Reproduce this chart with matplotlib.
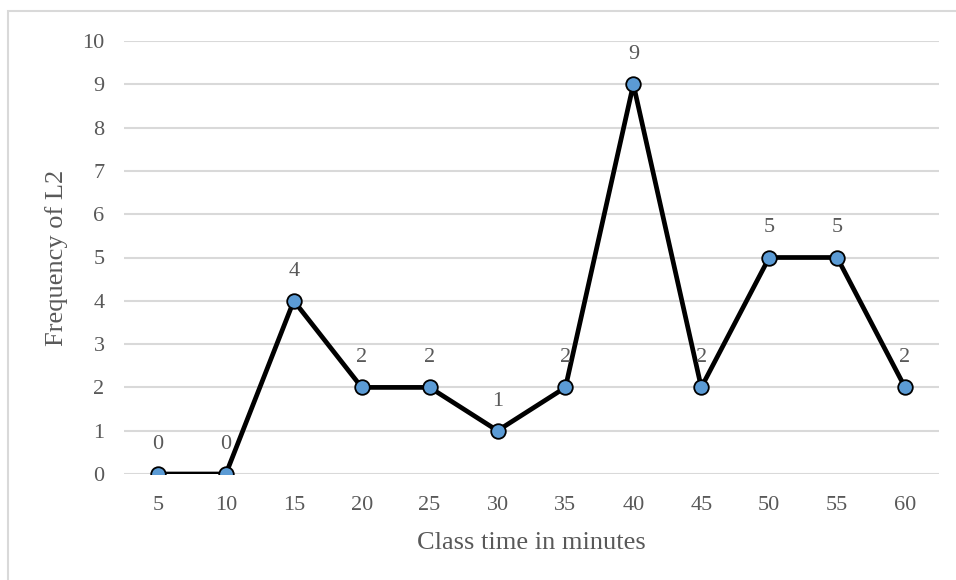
import matplotlib.pyplot as plt
from matplotlib.patches import Rectangle

# Data
minutes = ['5', '10', '15', '20', '25', '30', '35', '40', '45', '50', '55', '60']
freq_l2 = [0, 0, 4, 2, 2, 1, 2, 9, 2, 5, 5, 2]

text_col = '#595959'
plt.rcParams['font.family'] = ['Liberation Serif', 'DejaVu Serif']

fig = plt.figure(figsize=(9.56, 5.8), dpi=100)
ax = fig.add_axes([124 / 956, 1 - 474 / 580, (939 - 124) / 956, (474 - 41) / 580])

# outer chart border (cropped at right and bottom)
fig.patches.append(Rectangle((7.5 / 956, -0.1), 1.2, 1.1 - 11 / 580, transform=fig.transFigure,
                             fill=False, edgecolor='#D9D9D9', linewidth=1.5))

x = list(range(len(minutes)))
ax.plot(x, freq_l2, color='black', linewidth=3.4, marker='o', markersize=10.5,
        markerfacecolor='#5B9BD5', markeredgecolor='black', markeredgewidth=1.3, zorder=3)

for xi, v in zip(x, freq_l2):
    ax.annotate(str(v), (xi, v), textcoords='offset points', xytext=(0, 18),
                ha='center', va='baseline', fontsize=16, color=text_col)

ax.set_xlim(-0.5, len(minutes) - 0.5)
ax.set_ylim(0, 10)
ax.set_xticks(x)
ax.set_xticklabels(minutes)
ax.set_yticks(range(0, 11))
ax.yaxis.grid(True, color='#D9D9D9', linewidth=1.5)
ax.set_axisbelow(True)
for s in ax.spines.values():
    s.set_visible(False)
ax.tick_params(length=0, labelsize=16, labelcolor=text_col)
ax.tick_params(axis='y', pad=14)
ax.tick_params(axis='x', pad=16)
ax.set_xlabel('Class time in minutes', fontsize=19, color=text_col)
ax.set_ylabel('Frequency of L2', fontsize=19, color=text_col)
ax.xaxis.set_label_coords(0.5, -(549 - 474) / 433, transform=ax.transAxes)
ax.xaxis.label.set_va('baseline')
ax.yaxis.set_label_coords(-(124 - 57) / 815, 0.5, transform=ax.transAxes)
ax.yaxis.label.set_va('center')

fig.savefig('out.png', dpi=100)
